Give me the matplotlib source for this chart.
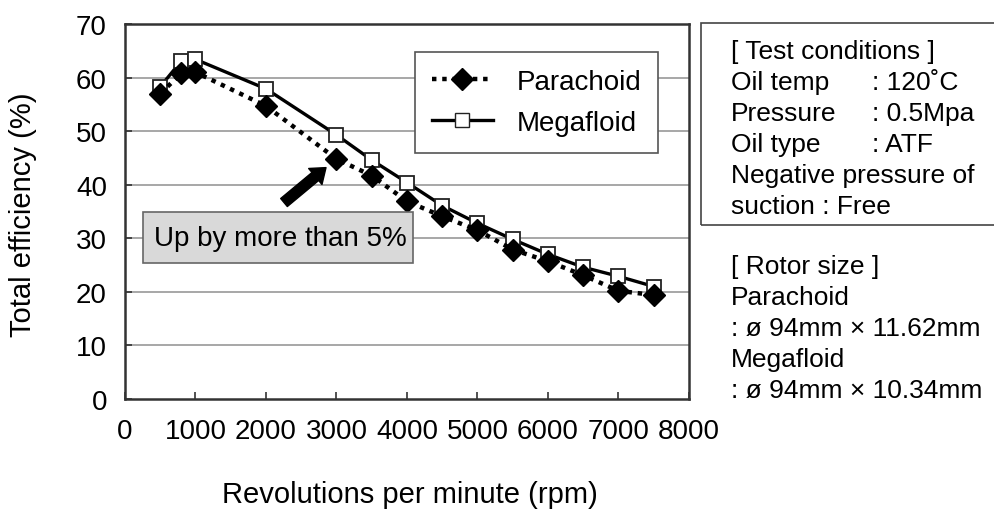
import matplotlib
matplotlib.use("Agg")
import matplotlib.pyplot as plt
from matplotlib.lines import Line2D
from matplotlib.patches import Rectangle

plt.rcParams['font.family'] = ['Liberation Sans', 'DejaVu Sans']

# --- data --------------------------------------------------------------------
rpm = [500, 800, 1000, 2000, 3000, 3500, 4000, 4500, 5000, 5500, 6000, 6500, 7000, 7500]
parachoid = [57.0, 60.8, 61.0, 54.7, 44.8, 41.7, 36.9, 34.1, 31.5, 27.9, 25.7, 23.1, 20.2, 19.4]
megafloid = [58.3, 63.1, 63.4, 57.9, 49.3, 44.6, 40.4, 36.1, 32.8, 29.8, 27.0, 24.6, 22.9, 21.0]

xticks = list(range(0, 8001, 1000))
yticks = list(range(0, 71, 10))

cond_lines = [("[ Test conditions ]", ""),
              ("Oil temp", ": 120˚C"),
              ("Pressure", ": 0.5Mpa"),
              ("Oil type", ": ATF"),
              ("Negative pressure of", ""),
              ("suction : Free", "")]
rotor_lines = ["[ Rotor size ]", "Parachoid", ": ø 94mm × 11.62mm",
               "Megafloid", ": ø 94mm × 10.34mm"]

FS_TICK = 20
FS_LAB = 21
FS_BOX = 19
W, H = 995, 510
DOT = (0, (1.0, 1.3))
fig = plt.figure(figsize=(W / 100, H / 100), dpi=100)
ax = fig.add_axes([125 / W, 1 - 400 / H, 564 / W, 375 / H])

ax.plot(rpm, parachoid, ls=DOT, lw=3.2, color="black", marker="D",
        markersize=11, markerfacecolor="black", markeredgecolor="black", zorder=4,
        dash_capstyle="butt")
ax.plot(rpm, megafloid, ls="-", lw=2.4, color="black", marker="s",
        markersize=10.5, markerfacecolor="white", markeredgecolor="#222222",
        markeredgewidth=1.3, zorder=3)

ax.set_xlim(0, 8000)
ax.set_ylim(0, 70)
ax.set_xticks(xticks)
ax.set_yticks(yticks)
ax.tick_params(axis="both", direction="in", length=5, width=1.2, labelsize=FS_TICK,
               color="#333333")
ax.tick_params(axis="x", pad=14)
ax.tick_params(axis="y", pad=13)
for y in yticks[1:-1]:
    ax.axhline(y, color="#a0a0a0", lw=1.3, zorder=1)
for s in ax.spines.values():
    s.set_linewidth(1.8)
    s.set_color("#333333")

fig.text(410 / W, 1 - 495 / H, "Revolutions per minute (rpm)", fontsize=FS_LAB,
         ha="center", va="center")
fig.text(23 / W, 1 - 215 / H, "Total efficiency (%)", fontsize=FS_LAB,
         ha="center", va="center", rotation=90)

leg = ax.legend(handles=[
    Line2D([0], [0], ls=DOT, lw=3.2, color="black", marker="D",
           markersize=11, label="Parachoid"),
    Line2D([0], [0], ls="-", lw=2.4, color="black", marker="s", markersize=10.5,
           markerfacecolor="white", markeredgecolor="#222222", label="Megafloid"),
], loc="upper left", bbox_to_anchor=((415 - 125) / 564, (401 - 53) / 376),
    fontsize=FS_TICK, frameon=True, fancybox=False, framealpha=1, edgecolor="#555555",
    handlelength=2.2, handletextpad=0.85, labelspacing=0.55, borderpad=0.6,
    borderaxespad=0)
leg.get_frame().set_linewidth(1.2)

# annotation box and arrow
ax.add_patch(Rectangle((18 / 564, (401 - 265) / 376), 270 / 564, 52 / 376,
                       transform=ax.transAxes, facecolor="#d9d9d9",
                       edgecolor="#666666", lw=1.2, zorder=5))
ax.text((280 - 125) / 564, (401 - 240) / 376, "Up by more than 5%", fontsize=FS_TICK,
        transform=ax.transAxes, ha="center", va="center", zorder=6)
ax.annotate("", xy=((326 - 125) / 564, (401 - 169) / 376),
            xytext=((284 - 125) / 564, (401 - 204) / 376),
            xycoords="axes fraction", textcoords="axes fraction",
            arrowprops=dict(arrowstyle="simple,head_length=1.0,head_width=1.5,tail_width=0.75",
                            color="black", shrinkA=0, shrinkB=0), zorder=6)

# right-hand text box
fig.patches.append(Rectangle((701 / W, 1 - 226 / H), 300 / W, 202 / H,
                             transform=fig.transFigure, facecolor="none",
                             edgecolor="#444444", lw=1.2, clip_on=False))
for i, (a, b) in enumerate(cond_lines):
    y = 1 - (52 + 31 * i) / H
    fig.text(731 / W, y, a, fontsize=FS_BOX, ha="left", va="center")
    if b:
        fig.text(872 / W, y, b, fontsize=FS_BOX, ha="left", va="center")
for i, t in enumerate(rotor_lines):
    fig.text(731 / W, 1 - (267 + 31 * i) / H, t, fontsize=FS_BOX, ha="left", va="center")

fig.savefig("out.png", dpi=100)
